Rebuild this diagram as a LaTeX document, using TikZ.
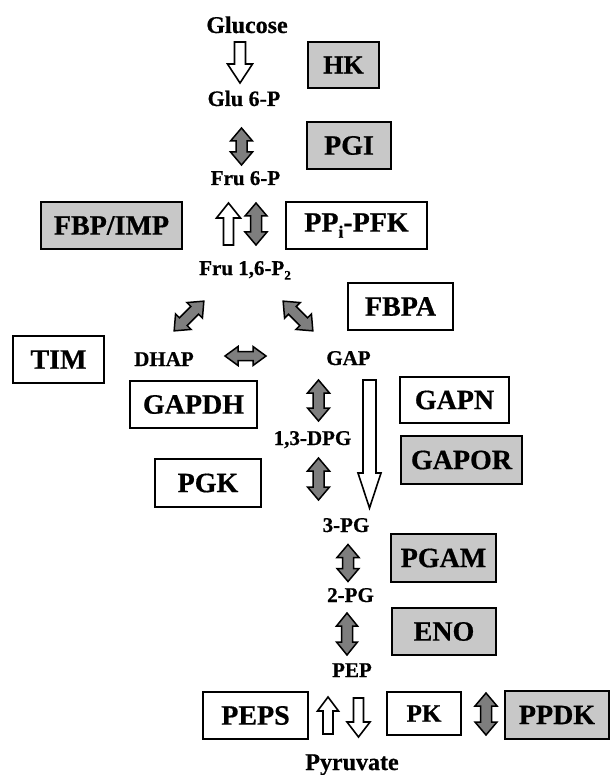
\documentclass[tikz,border=0pt]{standalone}
\usepackage{fontspec}
\setmainfont[BoldFeatures={FakeBold=0.6}]{Liberation Serif}
\definecolor{boxgray}{HTML}{C8C8C8}
\definecolor{arrgray}{HTML}{7E7E7E}
\newcommand{\blockdbl}[8]{%
\begin{scope}[shift={(#1,#2)},rotate=#3]
\path[#8] (0,{#4/2}) -- ({#5/2},{#4/2-#7}) -- ({#6/2},{#4/2-#7}) -- ({#6/2},{-#4/2+#7}) -- ({#5/2},{-#4/2+#7}) -- (0,{-#4/2}) -- ({-#5/2},{-#4/2+#7}) -- ({-#6/2},{-#4/2+#7}) -- ({-#6/2},{#4/2-#7}) -- ({-#5/2},{#4/2-#7}) -- cycle;
\end{scope}}
\newcommand{\blocksgl}[8]{%
\begin{scope}[shift={(#1,#2)},rotate=#3]
\path[#8] (0,{#4/2}) -- ({#5/2},{#4/2-#7}) -- ({#6/2},{#4/2-#7}) -- ({#6/2},{-#4/2}) -- ({-#6/2},{-#4/2}) -- ({-#6/2},{#4/2-#7}) -- ({-#5/2},{#4/2-#7}) -- cycle;
\end{scope}}
\newcommand{\subsc}[1]{\raisebox{-0.22em}{\fontsize{0.62em}{0.7em}\selectfont #1}}
\begin{document}
\begin{tikzpicture}[x=1pt,y=-1pt,
 enz/.style={draw, line width=1.5pt, inner sep=0pt, font=\bfseries\fontsize{28}{30}\selectfont},
 enzg/.style={enz, fill=boxgray},
 met/.style={inner sep=0pt, anchor=base, font=\bfseries\fontsize{21}{24}\selectfont},
 garr/.style={draw, line width=1.5pt, fill=arrgray, line join=miter},
 oarr/.style={draw, line width=1.6pt, fill=white, line join=miter}]
\useasboundingbox (0,0) rectangle (611,775);
% metabolites
\node[met, font=\bfseries\fontsize{24}{26}\selectfont] (glc) at (247,33) {Glucose};
\node[met, font=\bfseries\fontsize{22}{24}\selectfont] (g6p) at (244,106) {Glu 6-P};
\node[met] (f6p) at (245.5,185) {Fru 6-P};
\node[met] (fbp) at (245,275) {Fru 1,6-P\subsc{2}};
\node[met] (dhap) at (164,366) {DHAP};
\node[met] (gap) at (348.5,365) {GAP};
\node[met] (dpg) at (312.5,445) {1,3-DPG};
\node[met] (pg3) at (346,532) {3-PG};
\node[met] (pg2) at (350.5,602) {2-PG};
\node[met] (pep) at (352,677) {PEP};
\node[met, font=\bfseries\fontsize{24}{26}\selectfont] (pyr) at (352,770) {Pyruvate};
% enzymes
\node[enzg, minimum width=71, minimum height=46, font=\bfseries\fontsize{26}{28}\selectfont] (hk) at (343.5,65) {HK};
\node[enzg, minimum width=84, minimum height=47] (pgi) at (349,145.5) {PGI};
\node[enzg, minimum width=141, minimum height=47] (fbpimp) at (111.5,225.5) {FBP/IMP};
\node[enz, minimum width=141, minimum height=47] (pfk) at (356.5,225.5) {PP\subsc{i}-PFK};
\node[enz, minimum width=105, minimum height=47] (fbpa) at (400.5,306.5) {FBPA};
\node[enz, minimum width=91, minimum height=47] (tim) at (58.5,359.5) {TIM};
\node[enz, minimum width=127, minimum height=47] (gapdh) at (193.5,404.5) {GAPDH};
\node[enz, minimum width=109, minimum height=46] (gapn) at (454.5,400) {GAPN};
\node[enzg, minimum width=121, minimum height=48] (gapor) at (461.5,460) {GAPOR};
\node[enz, minimum width=106, minimum height=48] (pgk) at (208,483) {PGK};
\node[enzg, minimum width=105, minimum height=48] (pgam) at (443.5,558) {PGAM};
\node[enzg, minimum width=104, minimum height=47] (eno) at (444,631.5) {ENO};
\node[enz, minimum width=105, minimum height=47] (peps) at (255.5,715.5) {PEPS};
\node[enz, minimum width=74, minimum height=43, font=\bfseries\fontsize{25}{27}\selectfont] (pk) at (424,713.5) {PK};
\node[enzg, minimum width=104, minimum height=48] (ppdk) at (557,715) {PPDK};
% open block arrows
\blocksgl{240}{62.5}{0}{41}{25}{11}{19}{oarr}
\blocksgl{228.5}{224}{180}{42}{24}{10}{15}{oarr}
\blocksgl{369.5}{444}{0}{128}{23}{13}{35}{oarr}
\blocksgl{328}{715.5}{180}{37}{21}{10}{14}{oarr}
\blocksgl{358.5}{717.5}{0}{39}{23}{10}{15}{oarr}
% grey double block arrows
\blockdbl{241.5}{146.5}{0}{37}{22}{11}{13}{garr}
\blockdbl{256}{224}{0}{42}{22}{11}{13}{garr}
\blockdbl{189}{316}{-45}{42}{22}{11}{13}{garr}
\blockdbl{298}{316}{45}{42}{22}{11}{13}{garr}
\blockdbl{245.5}{356}{90}{41}{19}{9}{13}{garr}
\blockdbl{318.5}{400.5}{0}{41}{22}{11}{13}{garr}
\blockdbl{318.5}{479}{0}{42}{22}{11}{13}{garr}
\blockdbl{348}{563}{0}{37}{22}{11}{13}{garr}
\blockdbl{347}{634}{0}{42}{21}{11}{13}{garr}
\blockdbl{486}{714}{0}{42}{22}{11}{13}{garr}
\end{tikzpicture}
\end{document}
